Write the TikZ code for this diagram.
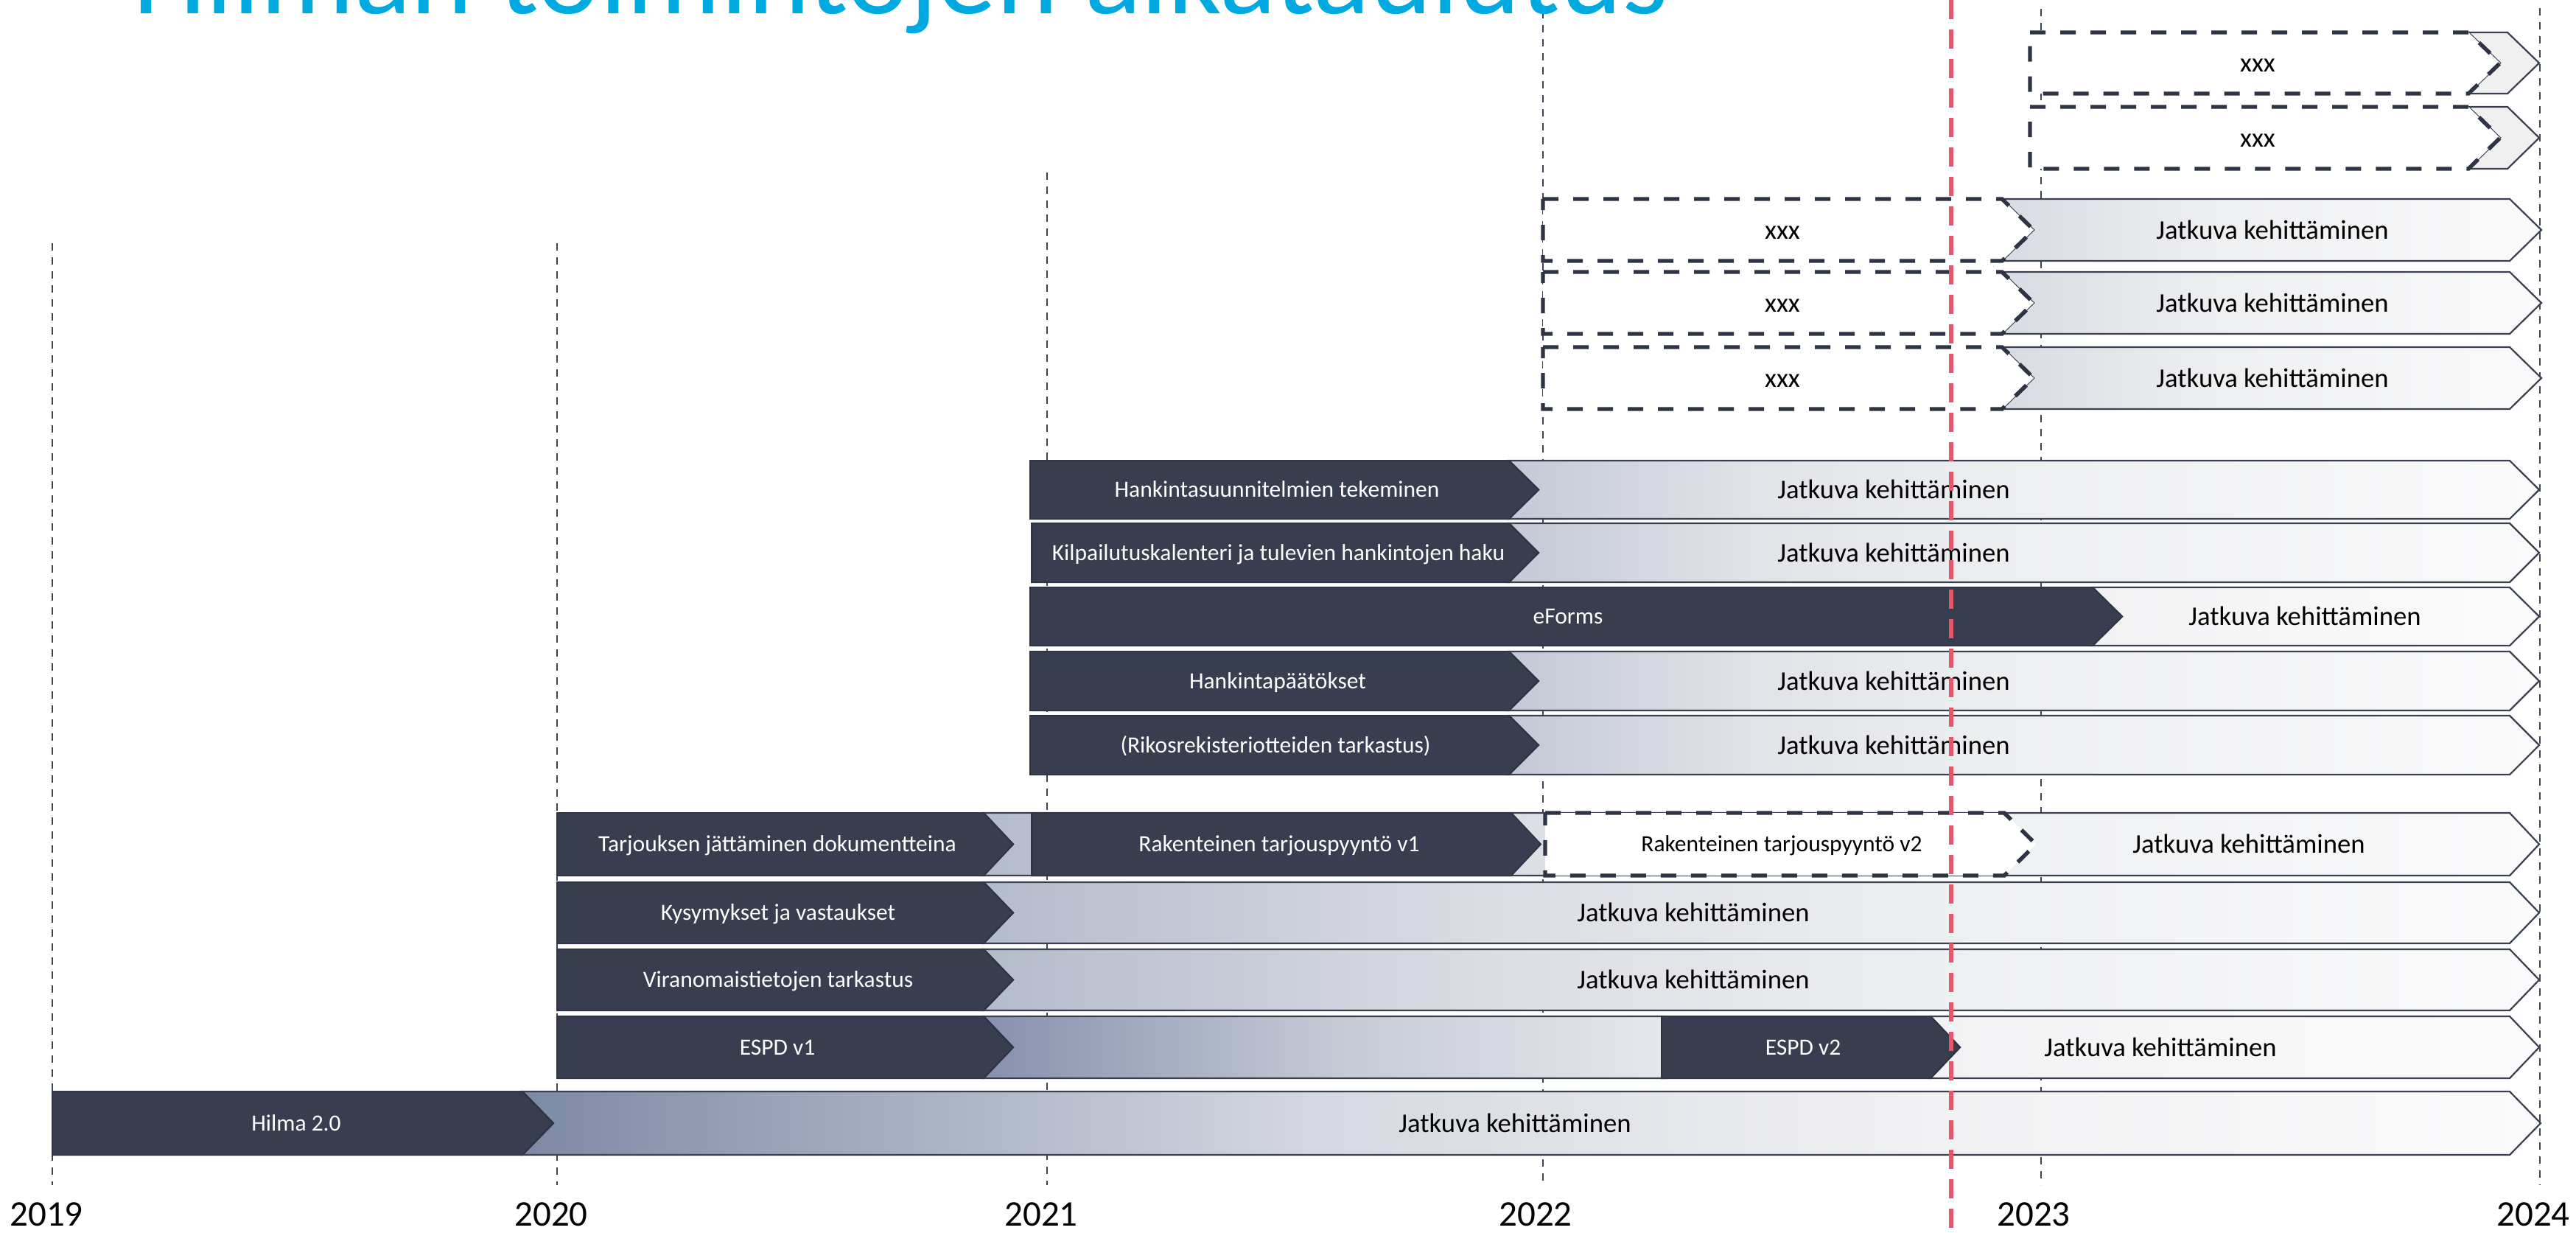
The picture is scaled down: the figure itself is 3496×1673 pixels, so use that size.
\documentclass[tikz,border=0pt]{standalone}
\usepackage{fontspec}
\setmainfont{Carlito}
\definecolor{dk}{HTML}{383E50}
\definecolor{dkl}{HTML}{2E3444}
\definecolor{outl}{HTML}{3A4050}
\definecolor{ylc}{HTML}{3D4455}
\definecolor{redc}{HTML}{E8566A}
\definecolor{titlec}{HTML}{00A9E0}
\definecolor{hA}{HTML}{7D8AA6}\definecolor{hB}{HTML}{D6D9E1}\definecolor{hC}{HTML}{F1F1F3}\definecolor{hD}{HTML}{FAFAFB}
\definecolor{eA}{HTML}{8691AD}\definecolor{eB}{HTML}{C5CAD5}\definecolor{eC}{HTML}{E9EAEE}
\definecolor{kA}{HTML}{B4BBCB}\definecolor{kB}{HTML}{DCDEE4}\definecolor{kC}{HTML}{EFF0F2}\definecolor{kD}{HTML}{FAFAFB}
\definecolor{nA}{HTML}{C4C9D5}\definecolor{nB}{HTML}{E1E3E8}\definecolor{nC}{HTML}{EEEFF1}\definecolor{nD}{HTML}{FAFAFB}
\definecolor{pA}{HTML}{F2F2F4}\definecolor{pB}{HTML}{FBFBFB}
\definecolor{rA}{HTML}{D8DBE2}\definecolor{rB}{HTML}{EEEFF1}\definecolor{rC}{HTML}{FAFAFB}
\definecolor{sA}{HTML}{F0F0F1}
\pgfdeclarehorizontalshading{gHilma}{100bp}{color(0bp)=(hA); color(25bp)=(hA); color(45bp)=(hB); color(60bp)=(hC); color(75bp)=(hD); color(100bp)=(hD)}
\pgfdeclarehorizontalshading{gEspd}{100bp}{color(0bp)=(eA); color(25bp)=(eA); color(50bp)=(eB); color(75bp)=(eC); color(100bp)=(eC)}
\pgfdeclarehorizontalshading{gKys}{100bp}{color(0bp)=(kA); color(25bp)=(kA); color(42bp)=(kB); color(57bp)=(kC); color(75bp)=(kD); color(100bp)=(kD)}
\pgfdeclarehorizontalshading{gHank}{100bp}{color(0bp)=(nA); color(25bp)=(nA); color(37bp)=(nB); color(50bp)=(nC); color(75bp)=(nD); color(100bp)=(nD)}
\pgfdeclarehorizontalshading{gPale}{100bp}{color(0bp)=(pA); color(25bp)=(pA); color(75bp)=(pB); color(100bp)=(pB)}
\pgfdeclarehorizontalshading{gRow}{100bp}{color(0bp)=(rA); color(25bp)=(rA); color(45bp)=(rB); color(75bp)=(rC); color(100bp)=(rC)}
\pgfdeclarehorizontalshading{gSliver}{100bp}{color(0bp)=(sA); color(100bp)=(sA)}
\newcommand\DarkChev[5]{\path[darkbar] (#1,#3) -- (#2,#3) -- ({#2+#5},{(#3+#4)/2}) -- (#2,#4) -- (#1,#4) -- cycle;}
\newcommand\LightChev[6]{\path[lightbar,shading=#6] (#1,#3) -- (#2,#3) -- ({#2+#5},{(#3+#4)/2}) -- (#2,#4) -- (#1,#4) -- ({#1+#5},{(#3+#4)/2}) -- cycle;}
\newcommand\DashChev[5]{\path[dbox] (#1,#3) -- (#2,#3) -- ({#2+#5},{(#3+#4)/2}) -- (#2,#4) -- (#1,#4) -- cycle;}
\begin{document}
\begin{tikzpicture}[x=1pt,y=-1pt,
  yl/.style={draw=ylc, line width=2pt, dash pattern=on 10pt off 9pt},
  darkbar/.style={fill=dk, draw=dkl, line width=2pt, line join=miter},
  lightbar/.style={shade, draw=outl, line width=2.2pt, line join=miter},
  dbox/.style={fill=white, draw=dkl, line width=5.4pt, dash pattern=on 21pt off 20pt, line join=miter},
  jk/.style={font=\fontsize{36.7}{44}\selectfont, text=black, anchor=base, inner sep=0pt},
  wl/.style={font=\fontsize{31.5}{38}\selectfont, text=white, anchor=base, inner sep=0pt},
  bl/.style={font=\fontsize{31.5}{38}\selectfont, text=black, anchor=base, inner sep=0pt},
  yr/.style={font=\fontsize{49}{58}\selectfont, text=black, anchor=base, inner sep=0pt},
  redl/.style={draw=redc, line width=5.4pt, dash pattern=on 26pt off 14pt}]
\useasboundingbox (0,0) rectangle (3496,1673);
\fill[white] (0,0) rectangle (3496,1673);
% year lines
\draw[yl] (71,330) -- (71,1608);
\draw[yl] (756,330) -- (756,1608);
\draw[yl] (1421,234) -- (1421,1608);
\draw[yl] (2094,15) -- (2094,1608);
\draw[yl] (2770,12) -- (2770,1608);
\draw[yl] (3447,11) -- (3447,1608);
% R1, R2
\LightChev{3350}{3403}{44}{127}{43}{gSliver}
\DashChev{2755}{3350}{44}{127}{43}
\LightChev{3350}{3403}{145}{229}{43}{gSliver}
\DashChev{2755}{3350}{145}{229}{43}
% R3-R5
\LightChev{2717}{3406}{270}{354}{43}{gRow}
\DashChev{2094}{2717}{270}{354}{43}
\LightChev{2717}{3406}{369}{453}{43}{gRow}
\DashChev{2094}{2717}{369}{453}{43}
\LightChev{2717}{3406}{471}{555}{43}{gRow}
\DashChev{2094}{2717}{471}{555}{43}
% R6-R10
\LightChev{2048}{3406}{625}{704}{40}{gHank}
\DarkChev{1398}{2048}{625}{704}{40}
\LightChev{2048}{3406}{710}{790}{40}{gHank}
\DarkChev{1400}{2048}{710}{790}{40}
\LightChev{2840}{3406}{797}{876}{40}{gPale}
\DarkChev{1398}{2840}{797}{876}{40}
\LightChev{2048}{3406}{884}{964}{40}{gHank}
\DarkChev{1398}{2048}{884}{964}{40}
\LightChev{2048}{3406}{971}{1051}{40}{gHank}
\DarkChev{1398}{2048}{971}{1051}{40}
% R11
\LightChev{1335}{3406}{1103}{1188}{40}{gKys}
\DarkChev{756}{1335}{1103}{1188}{40}
\DarkChev{1400}{2051}{1103}{1188}{40}
\DashChev{2097}{2720}{1103}{1188}{43}
% R12, R13
\LightChev{1335}{3406}{1197}{1280}{40}{gKys}
\DarkChev{756}{1335}{1197}{1280}{40}
\LightChev{1335}{3406}{1288}{1371}{40}{gKys}
\DarkChev{756}{1335}{1288}{1371}{40}
% R14
\LightChev{2620}{3406}{1379}{1463}{40}{gPale}
\LightChev{1335}{2262}{1379}{1463}{40}{gEspd}
\DarkChev{756}{1335}{1379}{1463}{40}
\DarkChev{2255}{2620}{1379}{1463}{40}
% R15
\LightChev{709}{3406}{1481}{1567}{42}{gHilma}
\DarkChev{71}{709}{1481}{1567}{42}
% texts
\node[jk] (x1) at (3064,97) {xxx};
\node[jk] (x2) at (3064,199) {xxx};
\node[jk] (x3) at (2419,324) {xxx};
\node[jk] (j3) at (3084,324) {Jatkuva kehittäminen};
\node[jk] (x4) at (2419,423) {xxx};
\node[jk] (j4) at (3084,423) {Jatkuva kehittäminen};
\node[jk] (x5) at (2419,525) {xxx};
\node[jk] (j5) at (3084,525) {Jatkuva kehittäminen};
\node[wl] (l6) at (1733,674) {Hankintasuunnitelmien tekeminen};
\node[jk] (j6) at (2570,676) {Jatkuva kehittäminen};
\node[wl] (l7) at (1735,760) {Kilpailutuskalenteri ja tulevien hankintojen haku};
\node[jk] (j7) at (2570,762) {Jatkuva kehittäminen};
\node[wl] (l8) at (2128,846) {eForms};
\node[jk] (j8) at (3128,848) {Jatkuva kehittäminen};
\node[wl] (l9) at (1734,934) {Hankintapäätökset};
\node[jk] (j9) at (2570,936) {Jatkuva kehittäminen};
\node[wl] (l10) at (1731,1021) {(Rikosrekisteriotteiden tarkastus)};
\node[jk] (j10) at (2570,1023) {Jatkuva kehittäminen};
\node[wl] (l11a) at (1055,1155) {Tarjouksen jättäminen dokumentteina};
\node[wl] (l11b) at (1736,1155) {Rakenteinen tarjouspyyntö v1};
\node[bl] (l11c) at (2418,1155) {Rakenteinen tarjouspyyntö v2};
\node[jk] (j11) at (3052,1157) {Jatkuva kehittäminen};
\node[wl] (l12) at (1056,1248) {Kysymykset ja vastaukset};
\node[jk] (j12) at (2298,1250) {Jatkuva kehittäminen};
\node[wl] (l13) at (1056,1339) {Viranomaistietojen tarkastus};
\node[jk] (j13) at (2298,1341) {Jatkuva kehittäminen};
\node[wl] (l14a) at (1055,1431) {ESPD v1};
\node[wl] (l14b) at (2447,1431) {ESPD v2};
\node[jk] (j14) at (2932,1433) {Jatkuva kehittäminen};
\node[wl] (l15) at (402,1534) {Hilma 2.0};
\node[jk] (j15) at (2056,1536) {Jatkuva kehittäminen};
% red line
\draw[redl] (2648,0) -- (2648,1673);
% year labels
\node[yr] (y2019) at (63,1663) {2019};
\node[yr] (y2020) at (748,1663) {2020};
\node[yr] (y2021) at (1413,1663) {2021};
\node[yr] (y2022) at (2084,1663) {2022};
\node[yr] (y2023) at (2760,1663) {2023};
\node[yr] (y2024) at (3438,1663) {2024};
% title
\node[anchor=base west, inner sep=0pt, font=\fontsize{160}{180}\selectfont, text=titlec] (title) at (180,18) {Hilman toimintojen aikataulutus};
\end{tikzpicture}
\end{document}
